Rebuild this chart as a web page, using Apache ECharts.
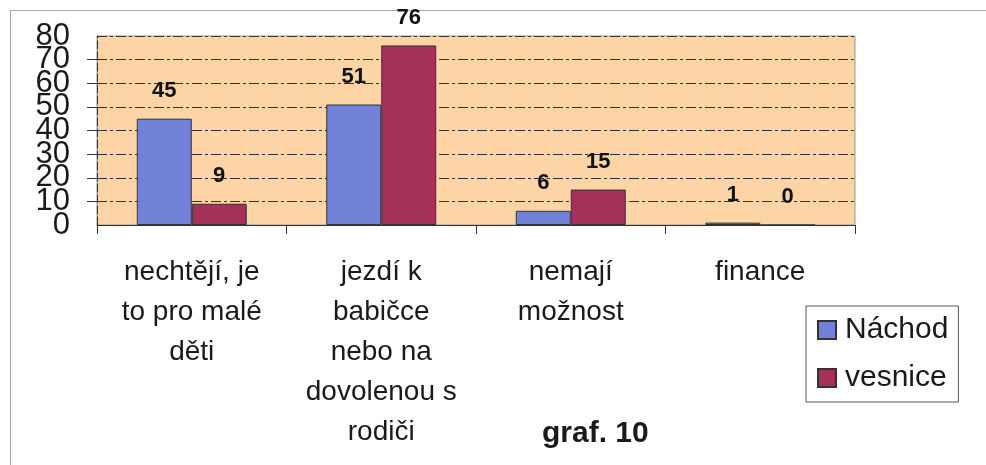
<!DOCTYPE html>
<html>
<head>
<meta charset="utf-8">
<script src="https://cdn.jsdelivr.net/npm/echarts@6/dist/echarts.min.js"></script>
<style>html,body{margin:0;padding:0;background:#fff}#c{width:986px;height:465px}</style>
</head>
<body>
<div id="c"></div>
<script>
var categories = ['nechtějí, je\nto pro malé\nděti', 'jezdí k\nbabičce\nnebo na\ndovolenou s\nrodiči', 'nemají\nmožnost', 'finance'];
var seriesNames = ['Náchod', 'vesnice'];
var nachod = [45, 51, 6, 1];
var vesnice = [9, 76, 15, 0];
var yTicks = {min: 0, max: 80, interval: 10};
var chartTitle = 'graf. 10';

var FONT = '"Liberation Sans", Arial, sans-serif';
var chart = echarts.init(document.getElementById('c'), null, {renderer: 'canvas'});
var labelCfg = {show: true, position: 'top', distance: 17, fontSize: 22, fontWeight: 'bold', color: '#111', fontFamily: FONT};
var yLabelBase = {fontSize: 31, color: '#1a1a1a', margin: 27, fontFamily: FONT, hideOverlap: false};
chart.setOption({
  animation: false,
  backgroundColor: '#fff',
  textStyle: {fontFamily: FONT},
  grid: {left: 97, right: 131, top: 36, bottom: 240, show: true, backgroundColor: '#FCD4A6', borderColor: '#999', borderWidth: 1},
  legend: {
    orient: 'vertical', left: 806, top: 306, icon: 'rect',
    padding: [7, 10, 7, 11], itemGap: 14, itemWidth: 18, itemHeight: 18,
    borderColor: '#555', borderWidth: 1, backgroundColor: '#fff',
    textStyle: {fontSize: 30, color: '#1a1a1a', lineHeight: 34, fontFamily: FONT, padding: [0, 0, 0, 4]},
    data: seriesNames
  },
  xAxis: {
    type: 'category', data: categories,
    axisLine: {lineStyle: {color: '#333', width: 1}},
    axisTick: {show: true, length: 9, interval: 0, lineStyle: {color: '#333'}},
    axisLabel: {interval: 0, fontSize: 28, lineHeight: 40, color: '#1a1a1a', margin: 27, fontFamily: FONT}
  },
  yAxis: [
    {
      type: 'value', min: yTicks.min, max: yTicks.max, interval: yTicks.interval, position: 'left',
      axisLine: {show: true, lineStyle: {color: '#333', type: [8, 3], width: 1}},
      axisTick: {show: true, length: 10, lineStyle: {color: '#333'}},
      axisLabel: Object.assign({showMinLabel: false, showMaxLabel: false}, yLabelBase),
      splitLine: {show: true, lineStyle: {color: '#333', type: [10, 3, 3, 3], width: 1}}
    },
    {
      type: 'value', min: yTicks.min, max: yTicks.max, interval: yTicks.interval, position: 'left', offset: 0,
      axisLine: {show: false}, axisTick: {show: false}, splitLine: {show: false},
      axisLabel: Object.assign({showMinLabel: true, showMaxLabel: true,
        formatter: function (v) { return (v === yTicks.min || v === yTicks.max) ? String(v) : ''; }}, yLabelBase)
    }
  ],
  series: [
    {name: seriesNames[0], type: 'bar', data: nachod, barGap: '0%', barCategoryGap: '42%',
     itemStyle: {color: '#7282D8', borderColor: '#333', borderWidth: 1}, label: labelCfg},
    {name: seriesNames[1], type: 'bar', data: vesnice, barGap: '0%', barCategoryGap: '42%',
     itemStyle: {color: '#A5305A', borderColor: '#333', borderWidth: 1}, label: labelCfg}
  ],
  graphic: [
    {type: 'line', shape: {x1: 10, y1: 10.5, x2: 986, y2: 10.5}, style: {stroke: '#aaa', lineWidth: 1}},
    {type: 'line', shape: {x1: 10.5, y1: 10, x2: 10.5, y2: 465}, style: {stroke: '#aaa', lineWidth: 1}},
    {type: 'text', left: 542, top: 419, style: {text: chartTitle, fontSize: 30, fontWeight: 'bold', fill: '#1a1a1a', fontFamily: FONT}}
  ]
});
</script>
</body>
</html>
